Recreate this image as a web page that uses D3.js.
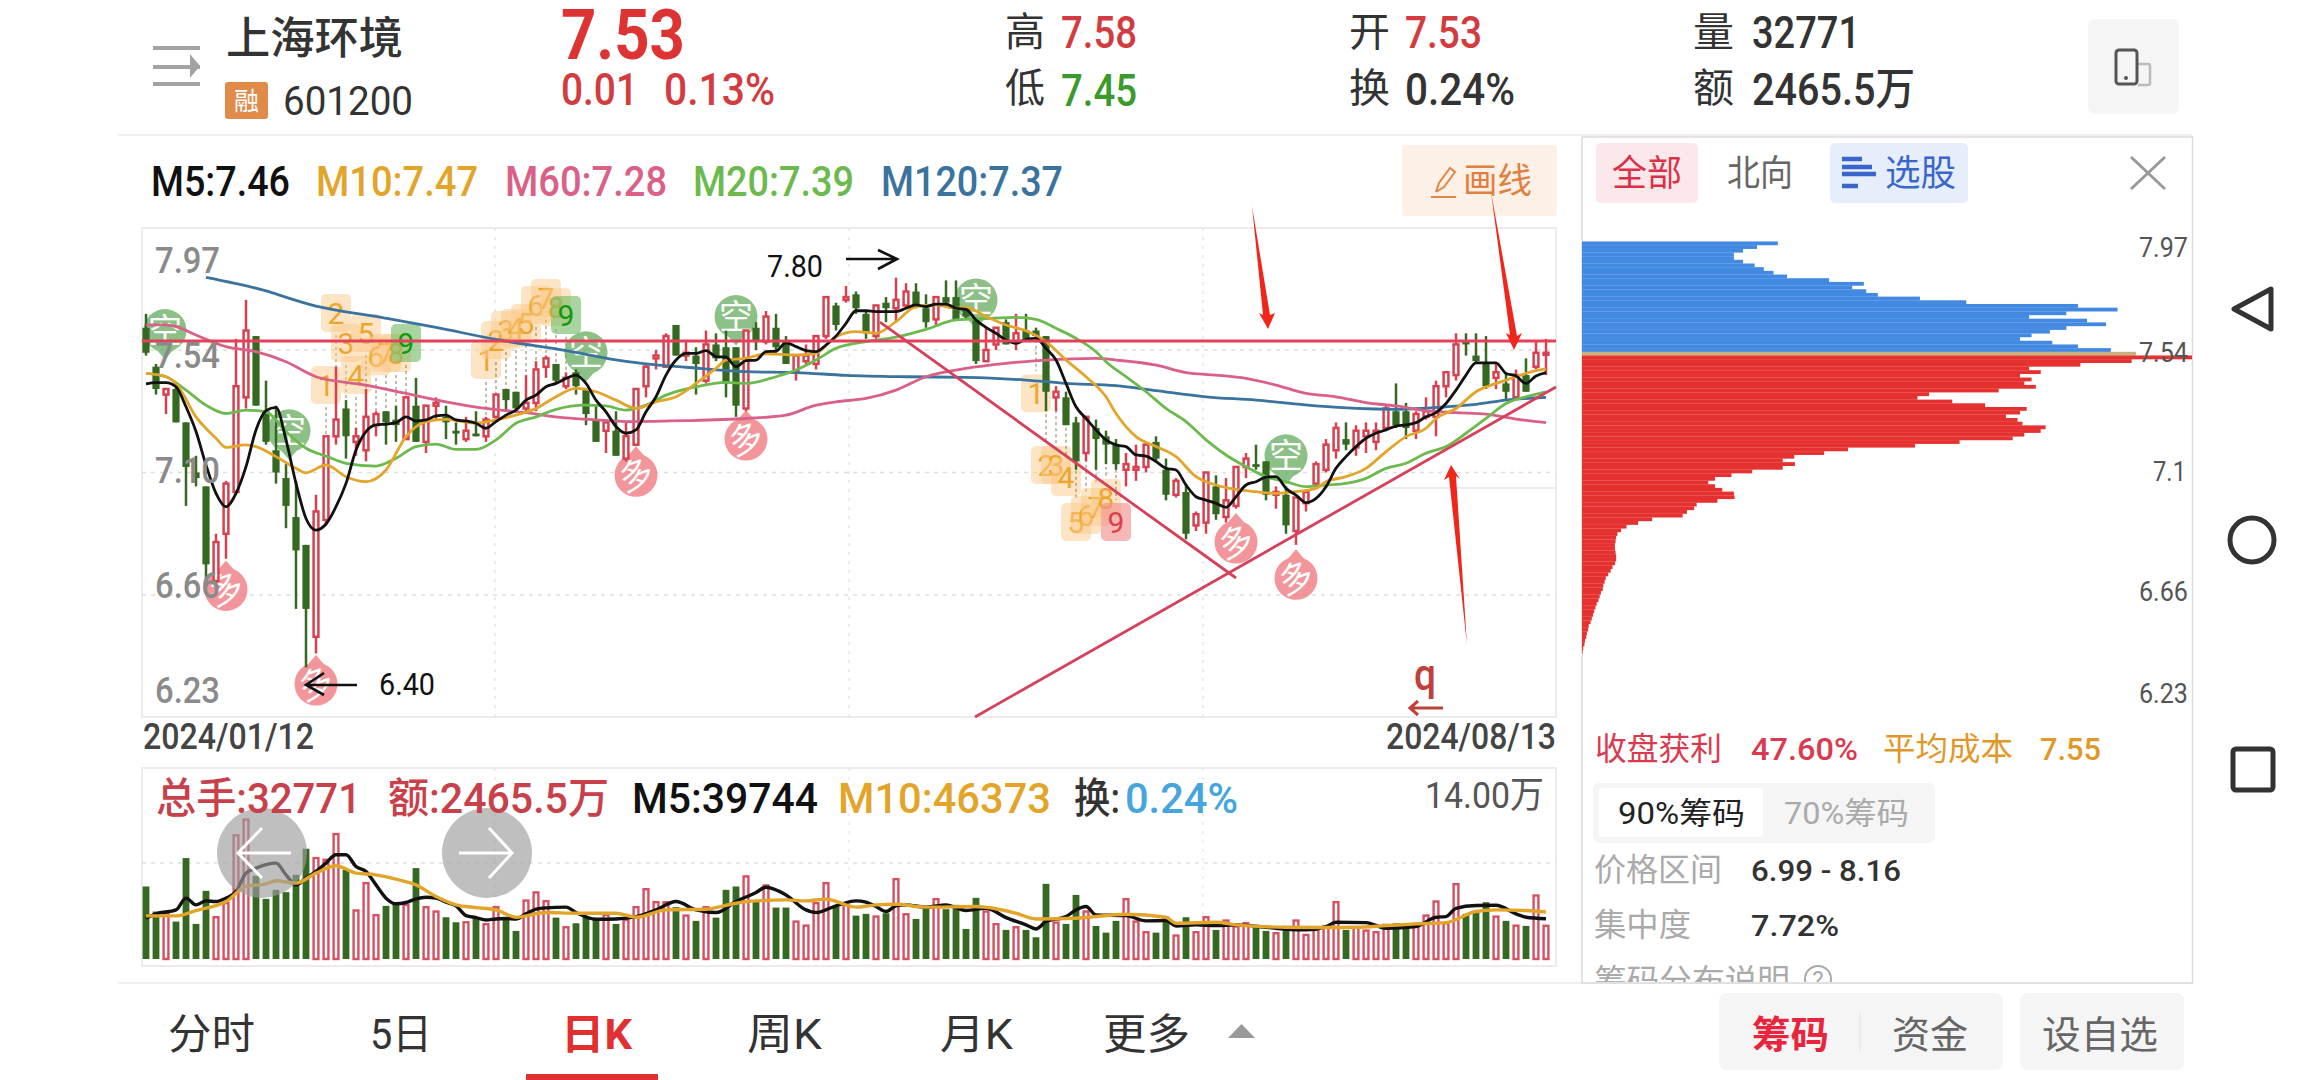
<!DOCTYPE html>
<html>
<head>
<meta charset="utf-8">
<title>上海环境 601200</title>
<script src="https://cdn.jsdelivr.net/npm/d3@7"></script>
<style>
  html, body { margin: 0; padding: 0; background: #fff; }
  svg { display: block; }
  text { font-family: Roboto, "Noto Sans CJK SC", sans-serif; }
</style>
</head>
<body>
<svg id="chart" width="2310" height="1080"></svg>
<script>
// daily candles, 2024/01/12 - 2024/08/13
const opens = [7.62,7.48,7.38,7.40,7.28,7.10,7.05,6.71,6.88,7.03,7.37,7.59,7.32,7.18,7.08,6.94,6.84,6.51,6.93,7.23,7.33,7.21,7.18,7.27,7.32,7.29,7.22,7.34,7.21,7.34,7.30,7.25,7.22,7.24,7.23,7.30,7.40,7.39,7.33,7.35,7.48,7.49,7.41,7.46,7.40,7.29,7.25,7.25,7.15,7.20,7.41,7.51,7.48,7.63,7.52,7.52,7.43,7.56,7.55,7.55,7.33,7.62,7.57,7.62,7.57,7.46,7.50,7.49,7.59,7.70,7.72,7.74,7.67,7.59,7.71,7.69,7.70,7.75,7.69,7.65,7.73,7.73,7.69,7.65,7.50,7.56,7.64,7.57,7.61,7.61,7.59,7.37,7.37,7.28,7.17,7.26,7.23,7.20,7.11,7.11,7.12,7.21,7.11,7.02,7.03,6.91,6.92,7.05,6.94,6.98,7.12,7.13,7.14,7.02,7.02,6.89,6.99,7.06,7.11,7.18,7.22,7.19,7.23,7.21,7.26,7.32,7.32,7.25,7.30,7.30,7.41,7.45,7.57,7.52,7.49,7.44,7.42,7.37,7.45,7.48,7.53];
const highs = [7.67,7.49,7.40,7.41,7.28,7.16,7.05,6.88,7.07,7.58,7.72,7.59,7.43,7.34,7.13,7.07,6.84,7.02,7.23,7.48,7.36,7.26,7.40,7.32,7.32,7.34,7.37,7.44,7.34,7.37,7.34,7.28,7.30,7.32,7.30,7.38,7.40,7.39,7.45,7.50,7.52,7.49,7.46,7.47,7.40,7.34,7.29,7.32,7.28,7.40,7.49,7.54,7.60,7.63,7.57,7.55,7.61,7.60,7.61,7.55,7.61,7.64,7.68,7.67,7.59,7.52,7.56,7.59,7.73,7.71,7.77,7.75,7.68,7.70,7.73,7.80,7.78,7.78,7.74,7.73,7.79,7.79,7.69,7.65,7.62,7.62,7.65,7.67,7.67,7.62,7.59,7.41,7.39,7.30,7.30,7.29,7.25,7.22,7.17,7.20,7.21,7.23,7.15,7.08,7.06,6.96,7.10,7.09,7.08,7.12,7.17,7.20,7.14,7.05,7.05,7.01,7.03,7.14,7.22,7.28,7.28,7.27,7.28,7.28,7.34,7.42,7.35,7.32,7.37,7.43,7.46,7.60,7.60,7.60,7.59,7.49,7.46,7.47,7.51,7.57,7.58];
const lows = [7.52,7.38,7.31,7.28,6.98,7.05,6.69,6.70,6.79,7.03,7.33,7.34,7.20,7.06,6.90,6.61,6.40,6.45,6.91,7.20,7.15,7.16,7.14,7.23,7.20,7.21,7.22,7.21,7.17,7.29,7.22,7.20,7.21,7.23,7.21,7.29,7.32,7.32,7.31,7.32,7.44,7.42,7.40,7.38,7.27,7.21,7.17,7.16,7.14,7.20,7.37,7.47,7.48,7.52,7.50,7.38,7.42,7.50,7.37,7.30,7.32,7.54,7.56,7.53,7.49,7.43,7.49,7.47,7.58,7.61,7.71,7.67,7.58,7.58,7.64,7.64,7.69,7.69,7.62,7.63,7.70,7.65,7.65,7.49,7.50,7.54,7.56,7.54,7.58,7.58,7.32,7.32,7.27,7.11,7.14,7.11,7.13,7.11,7.05,7.07,7.10,7.14,7.00,7.01,6.86,6.89,6.88,6.93,6.92,6.97,7.08,7.11,7.00,6.97,6.88,6.84,6.96,7.05,7.10,7.15,7.18,7.16,7.17,7.18,7.26,7.26,7.22,7.22,7.29,7.23,7.37,7.43,7.52,7.49,7.40,7.40,7.36,7.37,7.39,7.47,7.45];
const closes = [7.53,7.40,7.40,7.28,7.12,7.08,6.77,6.85,7.06,7.41,7.61,7.34,7.21,7.10,6.98,6.82,6.61,6.96,7.23,7.29,7.23,7.23,7.30,7.31,7.28,7.27,7.37,7.21,7.34,7.35,7.28,7.24,7.25,7.23,7.29,7.38,7.36,7.33,7.35,7.47,7.51,7.43,7.44,7.41,7.31,7.21,7.28,7.16,7.23,7.40,7.48,7.52,7.59,7.52,7.53,7.49,7.56,7.51,7.42,7.34,7.61,7.57,7.66,7.55,7.49,7.52,7.52,7.59,7.73,7.63,7.73,7.69,7.60,7.70,7.69,7.72,7.75,7.70,7.64,7.73,7.71,7.65,7.66,7.50,7.54,7.62,7.56,7.60,7.58,7.59,7.39,7.39,7.27,7.14,7.30,7.22,7.20,7.13,7.13,7.12,7.20,7.15,7.02,7.07,6.88,6.95,7.10,6.95,7.00,7.12,7.15,7.12,7.02,7.03,6.91,7.01,7.03,7.13,7.20,7.26,7.20,7.25,7.25,7.25,7.33,7.27,7.26,7.31,7.32,7.41,7.46,7.56,7.56,7.50,7.41,7.46,7.39,7.45,7.39,7.53,7.53];
const volumes = [71500,46800,45100,36900,99500,34600,67200,41200,55000,121900,137400,82000,59300,68200,65900,83000,108700,99500,97800,123200,88000,47800,74800,43200,52400,55000,53400,89600,51100,46800,41200,36200,36200,40200,34300,51100,40200,27700,57600,65600,57000,40800,31300,35200,41800,38500,43500,34600,38500,51100,68800,56000,56000,51100,42800,37600,51100,40800,68200,71500,81400,56700,72500,50700,50700,36900,32900,55000,74800,51700,53400,42800,44500,41800,45100,78700,44100,39500,51700,59000,49100,53400,29600,60300,46800,34300,28700,31300,28700,21400,74100,35900,34600,63200,46800,32600,26000,37600,59000,36900,26400,26000,41800,23100,41200,26400,41200,28700,37900,32000,35200,31300,27700,25400,28700,37900,23700,28700,32000,56000,28700,31300,28000,26400,33600,35200,31000,34600,42800,56700,35200,73800,44500,47400,56000,41800,37600,32900,32600,62600,32771];

// moving averages: M5 has a reading per candle, the slower ones are read at their bends
const ma5 = [7.418,7.423,7.423,7.408,7.336,7.247,7.127,7.025,6.977,7.025,7.121,7.253,7.322,7.334,7.217,7.061,6.935,6.893,6.915,6.977,7.061,7.181,7.247,7.271,7.274,7.279,7.30,7.285,7.289,7.303,7.306,7.289,7.285,7.277,7.259,7.283,7.306,7.324,7.36,7.378,7.408,7.42,7.438,7.45,7.42,7.36,7.318,7.265,7.241,7.253,7.318,7.372,7.45,7.504,7.528,7.528,7.538,7.516,7.514,7.48,7.502,7.504,7.534,7.536,7.566,7.552,7.538,7.534,7.558,7.59,7.636,7.681,7.681,7.678,7.678,7.678,7.69,7.702,7.696,7.705,7.705,7.69,7.686,7.648,7.621,7.60,7.576,7.564,7.578,7.582,7.546,7.504,7.42,7.336,7.294,7.253,7.217,7.199,7.193,7.163,7.159,7.139,7.115,7.109,7.055,7.013,7.001,6.989,6.975,7.013,7.055,7.067,7.083,7.085,7.043,7.019,6.992,7.007,7.049,7.115,7.157,7.193,7.223,7.241,7.253,7.267,7.271,7.279,7.30,7.315,7.348,7.396,7.45,7.494,7.494,7.494,7.456,7.447,7.42,7.447,7.459];
const ma10Days = [0,2,3,5,7,8,10,11,13,15,16,18,20,22,24,26,28,30,33,35,37,39,41,43,45,47,49,51,53,55,57,58,60,62,65,67,69,71,73,75,77,79,81,82,84,86,88,90,92,94,96,97,99,101,103,105,107,109,111,113,115,117,118,120,122,124,126,128,129,131,133,135,137,139,140];
const ma10 = [7.456,7.444,7.42,7.30,7.223,7.19,7.199,7.193,7.157,7.115,7.099,7.127,7.085,7.067,7.109,7.229,7.283,7.291,7.277,7.289,7.306,7.33,7.372,7.402,7.39,7.36,7.33,7.354,7.372,7.42,7.474,7.504,7.51,7.526,7.522,7.528,7.588,7.606,7.60,7.642,7.696,7.702,7.69,7.693,7.66,7.63,7.609,7.57,7.504,7.444,7.372,7.312,7.229,7.193,7.157,7.085,7.055,7.039,7.031,7.025,7.031,7.043,7.067,7.085,7.115,7.175,7.229,7.259,7.294,7.33,7.39,7.42,7.444,7.466,7.472];
const ma20Days = [0,2,4,6,8,10,12,14,16,18,20,23,25,27,29,31,33,35,37,39,41,44,46,48,50,52,55,58,60,63,65,67,69,72,75,78,81,84,87,89,91,93,95,96,98,100,102,104,106,108,110,112,114,116,118,120,122,124,126,128,130,132,134,136,138,140];
const ma20 = [7.456,7.444,7.396,7.342,7.312,7.324,7.318,7.247,7.187,7.159,7.133,7.123,7.151,7.193,7.202,7.183,7.183,7.217,7.277,7.30,7.327,7.342,7.339,7.324,7.342,7.378,7.408,7.424,7.42,7.444,7.468,7.504,7.546,7.57,7.586,7.614,7.648,7.653,7.657,7.65,7.618,7.582,7.534,7.498,7.444,7.39,7.33,7.283,7.217,7.163,7.121,7.085,7.067,7.049,7.055,7.061,7.079,7.115,7.133,7.169,7.193,7.241,7.294,7.348,7.372,7.39];
const ma60Days = [0,2,3,5,8,11,14,17,22,26,30,34,38,41,45,48,54,60,64,67,69,72,75,78,82,86,90,95,97,101,104,107,110,113,116,119,122,125,128,131,134,137,140];
const ma60 = [7.63,7.63,7.624,7.594,7.552,7.534,7.498,7.444,7.414,7.384,7.354,7.33,7.315,7.30,7.289,7.283,7.286,7.294,7.306,7.342,7.354,7.366,7.396,7.444,7.474,7.492,7.504,7.51,7.504,7.486,7.459,7.45,7.438,7.414,7.384,7.372,7.351,7.339,7.322,7.315,7.31,7.292,7.279];
const ma120Days = [6,11,17,24,29,35,42,48,50,54,60,65,70,76,82,88,92,97,101,106,111,117,121,125,130,133,136,140];
const ma120 = [7.801,7.762,7.698,7.654,7.621,7.578,7.538,7.499,7.49,7.478,7.462,7.459,7.449,7.444,7.442,7.432,7.42,7.412,7.394,7.372,7.36,7.339,7.33,7.327,7.336,7.345,7.36,7.37];

const volMa5Days = [0,1,3,4,5,6,7,8,9,10,11,13,14,15,16,17,18,19,20,21,22,23,24,25,26,27,28,29,30,31,32,33,34,35,36,37,38,39,40,42,43,45,47,49,51,53,55,57,59,61,62,64,66,67,69,71,72,73,74,75,76,78,80,82,84,86,88,89,90,92,93,94,95,98,100,102,103,105,107,109,112,114,116,118,119,122,124,127,129,130,131,133,135,137,138,140];
const volMa5 = [40200,44500,48400,60000,53400,57300,56700,60000,66500,84700,89600,94500,83000,73100,79700,86300,94500,102800,102800,91200,86300,73100,60000,54400,55700,59300,60900,60000,56000,52400,42800,40800,38500,39500,39900,39500,44500,49100,50400,51100,45800,39200,39500,41800,48400,56700,48400,45800,56700,65600,70800,63200,48400,45800,52400,57300,56000,51700,46800,52400,53400,51100,53400,47800,50000,40800,33600,29600,36900,41800,48400,51700,43500,42800,37600,37900,32600,33600,32900,33600,31300,29300,28700,32000,36200,35900,30300,32000,41200,41800,50000,52700,53000,44500,41200,39744];
const volMa10Days = [0,3,5,8,10,12,13,15,17,19,21,23,25,27,29,31,33,35,37,40,43,47,49,52,56,59,61,64,66,68,71,73,75,78,83,87,89,93,98,102,103,107,109,114,118,121,124,127,130,133,135,138,140];
const volMa10 = [42500,42500,47800,56700,71500,74100,77100,74800,84700,91900,84700,83000,78700,73100,61600,53400,50700,48400,41200,45800,45100,45100,41200,48400,49100,55000,57300,58300,57300,59000,51100,53400,54000,51100,51700,45100,39500,40200,44100,41200,35200,36200,33600,31300,31000,31300,32900,34600,35900,46800,48400,47800,46373];

// chip distribution, share of the longest row, top row first
const chipAbove = [32.1,28.7,26.4,24.9,24.9,26.4,28.3,29.8,31.4,33.6,40.5,46.2,44.3,46.6,48.5,55.4,63,81.3,87.8,79.4,73.3,82.8,85.9,79.4,76.7,73.7,71.8,77.1,81.3,86.7];
const chipAtPrice = [90.8];
const chipBelow = [100,90.1,81.7,73.3,75.2,71.8,73.7,72.5,74.4,68.3,56.9,55,60.7,66.1,72.9,71.8,69.5,71.4,72.2,76,75.2,72.5,70.6,61.9,54.6,43.6,39.7,34.8,32.9,34.9,32.9,27.9,24.5,21.8,20.7,21.8,23,24.9,25,22.2,18.8,18.4,17.2,16.5,11.5,9.2,7.3,6.4,5.8,5.6,5.5,5.4,5.4,5.5,5.6,5.6,5.4,5,4.7,4.3,3.9,3.7,3.5,3.4,3.1,2.9,2.7,2.4,2.2,2,1.8,1.6,1.4,1.1,1,0.8,0.7,0.5,0.4,0.2,0.1];

// buy / sell signal marks: candle index and the price they sit at
const buyDays = [8,17,49,60,109,115];
const buyPrices = [6.68,6.34,7.09,7.22,6.85,6.72];
const sellDays = [1.9,14.3,44,59,83,114];
const sellPrices = [7.61,7.25,7.53,7.66,7.72,7.16];

// nine-count sequences
const seqDays = [[18,19,20,21,22,23,24,25,26],[34,35,36,37,38,39,40,41,42],[89,90,91,92,93,94,95,96,97]];
const seqPrices = [[7.414,7.673,7.565,7.45,7.601,7.518,7.529,7.529,7.565],[7.504,7.576,7.612,7.619,7.637,7.702,7.727,7.694,7.666],[7.385,7.127,7.127,7.084,6.922,6.947,6.976,7.008,6.922]];

const axisLabels = ['7.97','7.54','7.10','6.66','6.23'];

const svg = d3.select('#chart');
const RED = '#d9404f', GREEN = '#356820';
const COL_M5 = '#111', COL_M10 = '#e3a42a', COL_M60 = '#da6088', COL_M20 = '#6cba4e', COL_M120 = '#3a739e';

const x = d3.scaleLinear().domain([0, 140]).range([146, 1546]);
const y = d3.scaleLinear().domain([6.23, 7.97]).range([714.7, 230.3]);
const yVol = d3.scaleLinear().domain([0, 140000]).range([959, 817]);
const xChip = d3.scaleLinear().domain([0, 100]).range([1582, 2192]);
const chips = chipAbove.concat(chipAtPrice, chipBelow);
const yChip = d3.scaleBand().domain(d3.range(chips.length)).range([y(7.93), y(6.45)]);

// text squeezed to the width it has in the app, the digits there are narrower than Roboto
function label(x0, x1, base, str, size, color, weight) {
    return svg.append('text')
        .attr('x', x0).attr('y', base)
        .attr('textLength', x1 - x0).attr('lengthAdjust', 'spacingAndGlyphs')
        .attr('font-size', size).attr('font-weight', weight || 400)
        .attr('fill', color).text(str);
}

// ---- header ----
svg.append('g').attr('stroke', '#a3a3a3').attr('stroke-width', 4)
    .selectAll('line').data([48, 67, 84]).join('line')
    .attr('x1', 153).attr('x2', 200).attr('y1', d => d).attr('y2', d => d);
svg.append('path').attr('d', 'M190 54L200 66L190 78Z').attr('fill', '#a3a3a3');

label(226, 403, 54, '上海环境', 44, '#333', 500);
svg.append('rect').attr('x', 225).attr('y', 82).attr('width', 43).attr('height', 37).attr('rx', 3).attr('fill', '#e08b4a');
label(234, 259, 110, '融', 25, '#fff');
label(283, 413, 115, '601200', 41, '#333');
label(561, 685, 59, '7.53', 70, '#dd3333', 700);
label(561, 638, 105, '0.01', 44, '#d23c40', 500);
label(664, 775, 105, '0.13%', 44, '#d23c40', 500);

label(1005, 1045, 46, '高', 40, '#333');
label(1061, 1137, 48, '7.58', 45, '#d23c40', 500);
label(1005, 1045, 102, '低', 40, '#333');
label(1061, 1137, 106, '7.45', 45, '#3a9a2b', 500);
label(1349, 1390, 46, '开', 40, '#333');
label(1405, 1482, 48, '7.53', 45, '#d23c40', 500);
label(1349, 1390, 102, '换', 40, '#333');
label(1405, 1515, 105, '0.24%', 44, '#333', 500);
label(1693, 1734, 46, '量', 40, '#333');
label(1752, 1860, 48, '32771', 45, '#333', 500);
label(1693, 1734, 102, '额', 40, '#333');
label(1752, 1915, 105, '2465.5万', 44, '#333', 500);

svg.append('rect').attr('x', 2088).attr('y', 19).attr('width', 91).attr('height', 95).attr('rx', 6).attr('fill', '#f5f5f5');
svg.append('path').attr('d', 'M2138 64h10a2 2 0 0 1 2 2v17a2 2 0 0 1 -2 2h-10').attr('fill', 'none').attr('stroke', '#bbb').attr('stroke-width', 2.5);
svg.append('rect').attr('x', 2116).attr('y', 50).attr('width', 21).attr('height', 34).attr('rx', 3).attr('fill', 'none').attr('stroke', '#555').attr('stroke-width', 3);
svg.append('circle').attr('cx', 2126).attr('cy', 78).attr('r', 2).attr('fill', '#555');

svg.append('line').attr('x1', 118).attr('x2', 2192).attr('y1', 135).attr('y2', 135).attr('stroke', '#e8e8e8').attr('stroke-width', 1.5);

label(151, 290, 196, 'M5:7.46', 42, COL_M5, 500);
label(316, 478, 196, 'M10:7.47', 42, COL_M10, 500);
label(505, 667, 196, 'M60:7.28', 42, COL_M60, 500);
label(693, 854, 196, 'M20:7.39', 42, COL_M20, 500);
label(881, 1063, 196, 'M120:7.37', 42, COL_M120, 500);

svg.append('rect').attr('x', 1402).attr('y', 145).attr('width', 155).attr('height', 71).attr('rx', 3).attr('fill', '#fdf0e6');
svg.append('path').attr('d', 'M1436 192L1439 183L1450 168L1455 172L1444 187L1436 192M1431 197H1456').attr('fill', 'none').attr('stroke', '#e08848').attr('stroke-width', 2);
label(1463, 1532, 193, '画线', 35, '#e08040');

// ---- price panel ----
const main = svg.append('g');
main.append('rect').attr('x', 142).attr('y', 228).attr('width', 1414).attr('height', 489)
    .attr('fill', 'none').attr('stroke', '#ececec').attr('stroke-width', 2);
main.append('g').attr('stroke', '#dedede').attr('stroke-dasharray', '4 5').attr('stroke-width', 1.3)
    .selectAll('line').data([7.54, 7.10, 6.66]).join('line')
    .attr('x1', 142).attr('x2', 1556).attr('y1', d => y(d)).attr('y2', d => y(d));
main.append('g').attr('stroke', '#e2e2e2').attr('stroke-dasharray', '3 6').attr('stroke-width', 1.3)
    .selectAll('line').data([495, 849, 1203]).join('line')
    .attr('x1', d => d).attr('x2', d => d).attr('y1', 228).attr('y2', 717);
main.append('line').attr('x1', 1320).attr('x2', 1556).attr('y1', 488).attr('y2', 488).attr('stroke', '#ececec').attr('stroke-width', 2);

[273, 368, 483, 598, 703].forEach((base, i) => label(155, 220, base, axisLabels[i], 36, '#8a8a8a', 500));

// sequence badges and their leaders, under the candles
seqDays.forEach((days, s) => {
    const g = main.append('g');
    days.forEach((d, k) => {
        const py = y(seqPrices[s][k]);
        const upper = s < 2;
        const last = k === 8;
        const anchor = upper ? y(lows[d]) : y(highs[d]);
        g.append('line').attr('x1', x(d)).attr('x2', x(d))
            .attr('y1', upper ? Math.max(py + 22, 0) : anchor).attr('y2', upper ? y(highs[d]) : py - 22)
            .attr('stroke', '#8a7a50').attr('stroke-dasharray', '3 3').attr('stroke-width', 1);
        const fill = !last ? '#f9c98a' : (s < 2 ? '#7cbd6c' : '#f2908e');
        g.append('rect').attr('x', x(d) - 15).attr('y', py - 19).attr('width', 30).attr('height', 38)
            .attr('rx', 5).attr('fill', fill).attr('opacity', last ? 0.65 : 0.5);
        g.append('text').attr('x', x(d)).attr('y', py + 11).attr('text-anchor', 'middle')
            .attr('font-size', 30).attr('fill', !last ? '#eea52c' : (s < 2 ? '#109a10' : '#d8404f')).text(k + 1);
    });
});

// signal drops
function drop(days, prices, word, fill, tipUp) {
    days.forEach((d, k) => {
        const cx = x(d), cy = y(prices[k]);
        const g = main.append('g').attr('opacity', 0.72);
        g.append('circle').attr('cx', cx).attr('cy', cy).attr('r', 21.5).attr('fill', fill);
        const tip = tipUp ? cy - 29 : cy + 29, base = tipUp ? cy - 15 : cy + 15;
        g.append('path').attr('d', `M${cx - 12} ${base}L${cx} ${tip}L${cx + 12} ${base}Z`).attr('fill', fill);
        g.append('text').attr('x', cx).attr('y', cy + 12).attr('text-anchor', 'middle')
            .attr('font-size', 34).attr('fill', '#fff')
            .attr('transform', tipUp ? `rotate(-20 ${cx} ${cy})` : null).text(word);
    });
}
drop(buyDays, buyPrices, '多', '#ee6f75', true);
drop(sellDays, sellPrices, '空', '#5fa858', false);

// candles
const candle = main.append('g').selectAll('g').data(d3.range(opens.length)).join('g');
candle.append('line')
    .attr('x1', i => x(i)).attr('x2', i => x(i))
    .attr('y1', i => y(highs[i])).attr('y2', i => y(lows[i]))
    .attr('stroke', i => closes[i] >= opens[i] ? RED : GREEN).attr('stroke-width', 2.5);
candle.append('rect')
    .attr('x', i => x(i) - (closes[i] >= opens[i] ? 2.4 : 3.6))
    .attr('width', i => closes[i] >= opens[i] ? 4.8 : 7.2)
    .attr('y', i => y(Math.max(opens[i], closes[i])))
    .attr('height', i => Math.max(2, Math.abs(y(opens[i]) - y(closes[i]))))
    .attr('fill', i => closes[i] >= opens[i] ? '#fff' : GREEN)
    .attr('stroke', i => closes[i] >= opens[i] ? RED : 'none')
    .attr('stroke-width', 2.5);

// moving averages
const lineGen = d3.line().curve(d3.curveMonotoneX).x(d => x(d[0])).y(d => y(d[1]));
function maLine(days, vals, color, gen, parent, width) {
    parent.append('path').attr('d', gen(days.map((d, k) => [d, vals[k]])))
        .attr('fill', 'none').attr('stroke', color).attr('stroke-width', width);
}
maLine(ma120Days, ma120, COL_M120, lineGen, main, 2.8);
maLine(ma60Days, ma60, COL_M60, lineGen, main, 2.8);
maLine(ma20Days, ma20, COL_M20, lineGen, main, 2.8);
maLine(ma10Days, ma10, COL_M10, lineGen, main, 2.8);
maLine(d3.range(ma5.length), ma5, COL_M5, lineGen, main, 2.8);

// hand drawn lines and arrows on top of the screenshot
const drawn = main.append('g').attr('stroke', '#dc3f58').attr('stroke-width', 2.8);
drawn.append('line').attr('x1', 142).attr('x2', 1556).attr('y1', y(7.572)).attr('y2', y(7.572)).attr('stroke', '#e4405a').attr('stroke-width', 3);
drawn.append('line').attr('x1', x(73.4)).attr('y1', y(7.64)).attr('x2', x(109)).attr('y2', y(6.721)).attr('stroke', '#d6405a');
drawn.append('line').attr('x1', x(82.9)).attr('y1', y(6.222)).attr('x2', x(141)).attr('y2', y(7.407)).attr('stroke', '#d6405a');

const arrowRed = '#f0261a';
[
    'M1252 206L1263 315L1259 313L1268 329L1275 313L1270 315Z',
    'M1491 192L1510 335L1506 333L1514 350L1522 333L1517 336Z',
    'M1467 645L1456 476L1460 479L1451 465L1444 480L1449 477Z'
].forEach(p => main.append('path').attr('d', p).attr('fill', arrowRed));

const blackArrows = main.append('g').attr('fill', 'none').attr('stroke', '#111').attr('stroke-width', 2.6);
blackArrows.append('path').attr('d', 'M846 259H897M878 250L897 259L878 269');
blackArrows.append('path').attr('d', 'M357 685H306M324 673L306 685L324 695');
label(767, 823, 277, '7.80', 31, '#111');
label(379, 435, 695, '6.40', 31, '#111');
label(1414, 1436, 690, 'q', 44, '#c0413c', 500);
main.append('path').attr('d', 'M1443 708H1410M1418 701L1410 708L1418 715').attr('fill', 'none').attr('stroke', '#c0413c').attr('stroke-width', 3);

label(143, 314, 749, '2024/01/12', 36, '#444', 500);
label(1386, 1556, 749, '2024/08/13', 36, '#444', 500);

// ---- volume panel ----
const vol = svg.append('g');
vol.append('rect').attr('x', 142).attr('y', 768).attr('width', 1414).attr('height', 198)
    .attr('fill', 'none').attr('stroke', '#ececec').attr('stroke-width', 2);
vol.append('line').attr('x1', 142).attr('x2', 1556).attr('y1', 863).attr('y2', 863)
    .attr('stroke', '#e0e0e0').attr('stroke-dasharray', '4 5').attr('stroke-width', 1.3);
vol.append('g').attr('stroke', '#e6e6e6').attr('stroke-dasharray', '3 6').attr('stroke-width', 1.3)
    .selectAll('line').data([495, 849, 1203]).join('line')
    .attr('x1', d => d).attr('x2', d => d).attr('y1', 768).attr('y2', 966);

vol.selectAll('.volbar').data(volumes).join('rect')
    .attr('class', 'volbar')
    .attr('x', (d, i) => x(i) - (closes[i] >= opens[i] ? 2.4 : 3.4))
    .attr('width', (d, i) => closes[i] >= opens[i] ? 4.8 : 6.8)
    .attr('y', d => yVol(d))
    .attr('height', d => yVol(0) - yVol(d))
    .attr('fill', (d, i) => closes[i] >= opens[i] ? '#fff' : GREEN)
    .attr('stroke', (d, i) => closes[i] >= opens[i] ? '#d64f62' : 'none')
    .attr('stroke-width', 2.4);

const volGen = d3.line().curve(d3.curveMonotoneX).x(d => x(d[0])).y(d => yVol(d[1]));
maLine(volMa5Days, volMa5, '#111', volGen, vol, 3.4);
maLine(volMa10Days, volMa10, '#e3a42a', volGen, vol, 3.4);

label(156, 361, 813, '总手:32771', 42, '#c8404a', 500);
label(388, 609, 813, '额:2465.5万', 42, '#c8404a', 500);
label(632, 818, 813, 'M5:39744', 42, '#111', 500);
label(838, 1051, 813, 'M10:46373', 42, '#e3a42a', 500);
label(1074, 1120, 813, '换:', 42, '#333', 500);
label(1125, 1238, 813, '0.24%', 42, '#45a5dc', 500);
label(1425, 1544, 808, '14.00万', 37, '#555');

// the pager buttons lie over the bars
[[262, 'M291 853H238M262 828L238 853L262 878'], [487, 'M459 853H512M489 828L512 853L489 878']].forEach(b => {
    vol.append('ellipse').attr('cx', b[0]).attr('cy', 853).attr('rx', 45).attr('ry', 45).attr('fill', '#9c9c9c').attr('opacity', 0.65);
    vol.append('path').attr('d', b[1]).attr('fill', 'none').attr('stroke', '#fff').attr('stroke-width', 3);
});

svg.append('line').attr('x1', 118).attr('x2', 2192).attr('y1', 983).attr('y2', 983).attr('stroke', '#e8e8e8').attr('stroke-width', 1.5);

// ---- chip panel ----
svg.append('rect').attr('x', 1582).attr('y', 137).attr('width', 610.5).attr('height', 846)
    .attr('fill', 'none').attr('stroke', '#dcdcdc').attr('stroke-width', 1.5);
svg.append('rect').attr('x', 1596).attr('y', 143).attr('width', 102).attr('height', 60).attr('rx', 5).attr('fill', '#fce8ea');
label(1612, 1682, 186, '全部', 36, '#d8324a');
label(1727, 1793, 186, '北向', 36, '#666');
svg.append('rect').attr('x', 1830).attr('y', 143).attr('width', 138).attr('height', 60).attr('rx', 5).attr('fill', '#e6edfb');
svg.append('g').attr('stroke', '#3a66cc').attr('stroke-width', 4.5).selectAll('line')
    .data([[1842, 1862, 159], [1842, 1872, 167], [1842, 1876, 174], [1842, 1858, 186]]).join('line')
    .attr('x1', d => d[0]).attr('x2', d => d[1]).attr('y1', d => d[2]).attr('y2', d => d[2]);
label(1885, 1956, 186, '选股', 36, '#3a66cc');
svg.append('path').attr('d', 'M2131 157L2165 189M2165 157L2131 189').attr('stroke', '#999').attr('stroke-width', 3).attr('fill', 'none');

svg.append('g').selectAll('rect').data(chips).join('rect')
    .attr('x', xChip(0))
    .attr('y', (d, i) => yChip(i))
    .attr('width', d => xChip(d) - xChip(0))
    .attr('height', yChip.bandwidth() + 0.15)
    .attr('fill', (d, i) => i < chipAbove.length ? '#4289e2' : (i < chipAbove.length + chipAtPrice.length ? '#c9b27a' : '#e5312f'));

[[257, '7.97', 2139, 2188], [362, '7.54', 2139, 2188], [481, '7.1', 2153, 2186], [601, '6.66', 2139, 2188], [703, '6.23', 2139, 2188]]
    .forEach(t => label(t[2], t[3], t[0], t[1], 27, '#555'));

label(1595, 1722, 760, '收盘获利', 32, '#d93a50');
label(1751, 1858, 760, '47.60%', 32, '#d93a50', 500);
label(1883, 2013, 760, '平均成本', 32, '#e0982a');
label(2040, 2101, 760, '7.55', 32, '#e0982a', 500);
svg.append('rect').attr('x', 1593).attr('y', 783).attr('width', 342).attr('height', 60).attr('rx', 6).attr('fill', '#f5f5f5');
svg.append('rect').attr('x', 1599).attr('y', 788).attr('width', 164).attr('height', 49).attr('rx', 4).attr('fill', '#fff');
label(1618, 1745, 824, '90%筹码', 31, '#222');
label(1784, 1909, 824, '70%筹码', 31, '#aaa');
label(1594, 1722, 881, '价格区间', 32, '#aaa');
label(1751, 1901, 881, '6.99 - 8.16', 30, '#333', 500);
label(1594, 1691, 936, '集中度', 32, '#aaa');
label(1751, 1839, 936, '7.72%', 30, '#333', 500);

svg.append('clipPath').attr('id', 'note-clip').append('rect').attr('x', 1590).attr('y', 950).attr('width', 300).attr('height', 32);
const note = svg.append('g').attr('clip-path', 'url(#note-clip)');
note.append('text').attr('x', 1594).attr('y', 992).attr('font-size', 32).attr('fill', '#aaa')
    .attr('textLength', 196).attr('lengthAdjust', 'spacingAndGlyphs').text('筹码分布说明');
note.append('circle').attr('cx', 1818).attr('cy', 979).attr('r', 13).attr('fill', 'none').attr('stroke', '#aaa').attr('stroke-width', 2);
note.append('text').attr('x', 1818).attr('y', 988).attr('text-anchor', 'middle').attr('font-size', 24).attr('fill', '#aaa').text('?');

// ---- footer tabs ----
label(168, 255, 1049, '分时', 42, '#333');
label(370, 432, 1049, '5日', 42, '#333');
label(561, 632, 1049, '日K', 42, '#e03030', 700);
label(747, 822, 1049, '周K', 42, '#333');
label(940, 1013, 1049, '月K', 42, '#333');
label(1103, 1190, 1049, '更多', 42, '#333');
svg.append('rect').attr('x', 526).attr('y', 1074).attr('width', 132).attr('height', 6).attr('fill', '#e03030');
svg.append('path').attr('d', 'M1228 1038L1241.5 1024L1255 1038Z').attr('fill', '#999');

svg.append('rect').attr('x', 1719).attr('y', 993).attr('width', 284).attr('height', 77).attr('rx', 8).attr('fill', '#f5f5f5');
label(1752, 1829, 1048, '筹码', 38, '#e8253c', 700);
svg.append('line').attr('x1', 1860).attr('x2', 1860).attr('y1', 1012).attr('y2', 1052).attr('stroke', '#e6e6e6').attr('stroke-width', 1.5);
label(1892, 1968, 1048, '资金', 38, '#666');
svg.append('rect').attr('x', 2020).attr('y', 993).attr('width', 164).attr('height', 77).attr('rx', 8).attr('fill', '#f5f5f5');
label(2042, 2158, 1048, '设自选', 38, '#666');

// ---- android navigation bar ----
const nav = svg.append('g').attr('fill', 'none').attr('stroke', '#333').attr('stroke-width', 5).attr('stroke-linejoin', 'round');
nav.append('path').attr('d', 'M2271 289V329L2234 309Z');
nav.append('circle').attr('cx', 2252).attr('cy', 540).attr('r', 22);
nav.append('rect').attr('x', 2233).attr('y', 749).attr('width', 40).attr('height', 41).attr('rx', 3);
</script>
</body>
</html>
